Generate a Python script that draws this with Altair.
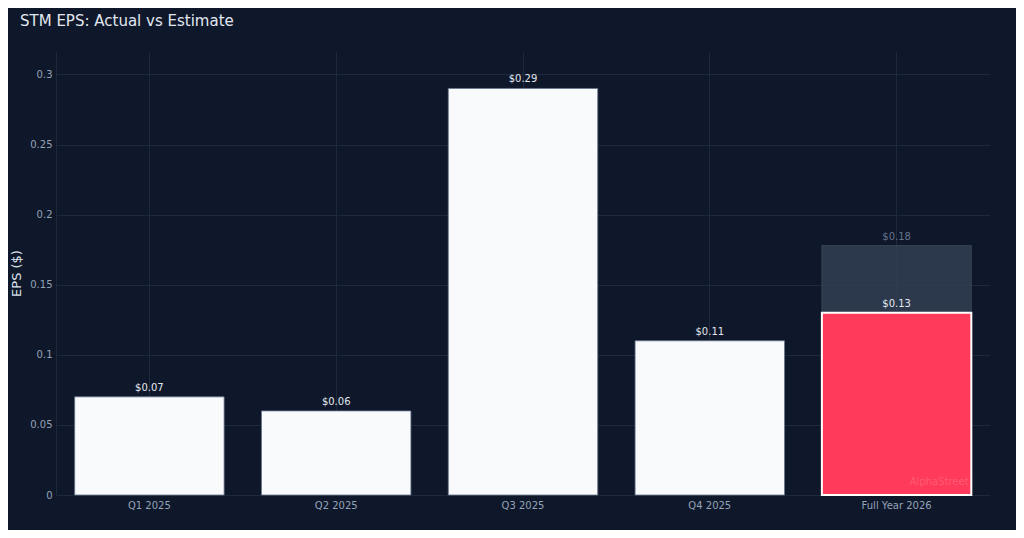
import altair as alt
import pandas as pd

categories = ["Q1 2025", "Q2 2025", "Q3 2025", "Q4 2025", "Full Year 2026"]
actual = [0.07, 0.06, 0.29, 0.11, 0.13]
estimate = [None, None, None, None, 0.178]
highlight = [False, False, False, False, True]
y_ticks = [0, 0.05, 0.1, 0.15, 0.2, 0.25, 0.3]

df = pd.DataFrame({"cat": categories, "actual": actual, "estimate": estimate, "hl": highlight})
df["alabel"] = ["$%.2f" % v for v in actual]
df["elabel"] = ["$%.2f" % v if v is not None and v == v else "" for v in estimate]

BG = "#0f172a"
GRID = "#1e293b"
FONT = "DejaVu Sans"

x = alt.X("cat:N", sort=categories, title=None,
          scale=alt.Scale(paddingInner=0.2, paddingOuter=0.1),
          axis=alt.Axis(labelAngle=0, labelColor="#94a3b8", labelFontSize=10, labelFont=FONT,
                        tickSize=0, labelPadding=5, grid=True, gridColor=GRID, bandPosition=0.5,
                        domainColor=GRID))
yscale = alt.Scale(domain=[0, 0.316], nice=False, zero=True)

base = alt.Chart(df).encode(x=x)

est_bar = base.transform_filter("datum.estimate != null").mark_bar(
    fill="#334155", fillOpacity=0.8, stroke="#475569", strokeWidth=1, strokeOpacity=0.6
).encode(y=alt.Y("estimate:Q", scale=yscale, title="EPS ($)",
                 axis=alt.Axis(values=y_ticks, format="~g", labelColor="#94a3b8", labelFontSize=10,
                               labelFont=FONT, tickSize=0, labelPadding=4, gridColor=GRID,
                               domainColor=GRID, titleColor="#dbe2ea", titleFontSize=13,
                               titleFontWeight="normal", titleFont=FONT, titleAngle=-90,
                               titleX=-40, titleY=221, titleAlign="center",
                               titleBaseline="middle")))

act_bar_plain = base.transform_filter("!datum.hl").mark_bar(
    fill="#f8fafc", stroke="#64748b", strokeWidth=0.8
).encode(y=alt.Y("actual:Q", scale=yscale))

act_bar_hl = base.transform_filter("datum.hl").mark_bar(
    fill="#ff3a5a", stroke="#ffffff", strokeWidth=2
).encode(y=alt.Y("actual:Q", scale=yscale))

act_text = base.mark_text(baseline="bottom", dy=-4, fontSize=10, font=FONT, color="#e2e8f0").encode(
    y=alt.Y("actual:Q", scale=yscale), text="alabel:N")

est_text = base.transform_filter("datum.estimate != null").mark_text(
    baseline="bottom", dy=-3, fontSize=10, font=FONT, color="#64748b").encode(
    y=alt.Y("estimate:Q", scale=yscale), text="elabel:N")

watermark = base.transform_filter("datum.hl").mark_text(
    align="right", baseline="bottom", dx=72, dy=-8, fontSize=10, font=FONT,
    color="#ffffff", opacity=0.15).encode(
    y=alt.value(443), text=alt.value("AlphaStreet"))

chart = alt.layer(est_bar, act_bar_plain, act_bar_hl, act_text, est_text, watermark).properties(
    width=934, height=443,
    background=BG,
    autosize=alt.AutoSizeParams(type="none"),
    padding={"left": 48, "top": 44, "right": 26, "bottom": 35},
    title=alt.TitleParams("STM EPS: Actual vs Estimate", anchor="start", frame="group", dx=-36,
                          offset=23, fontSize=15, font=FONT, fontWeight="normal", color="#e2e8f0"),
).configure_view(stroke=None).configure_axis(gridWidth=1)

chart.save("out.html", embed_options={"renderer": "svg", "actions": False})
